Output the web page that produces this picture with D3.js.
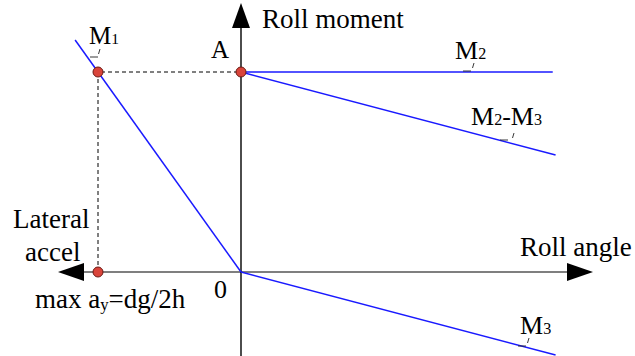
<!DOCTYPE html>
<html>
<head>
  <script src="https://d3js.org/d3.v7.min.js"></script>
  <style>
    html, body { margin: 0; padding: 0; background: #fff; }
    #chart { position: relative; width: 635px; height: 356px; }
    #chart svg { position: absolute; left: 0; top: 0; }
    .lbl {
      position: absolute;
      white-space: nowrap;
      line-height: 1;
      font-family: "Liberation Serif", "Times New Roman", Tinos, serif;
      color: #000;
    }
    .lbl .sub { font-size: 0.62em; }
    .lbl .base { display: inline-block; width: 0; height: 0; }
  </style>
</head>
<body>
  <div id="chart"></div>
  <script>
    // data (roll angle on x, roll moment on y, arbitrary units)
    const m1X = [-1.16, 0];
    const m1Y = [1.16, 0];
    const m2X = [0, 2.18];
    const m2Y = [1, 1];
    const m2m3X = [0, 2.2];
    const m2m3Y = [1, 0.585];
    const m3X = [0, 2.2];
    const m3Y = [0, -0.415];
    const dotX = [-1, 0, -1];
    const dotY = [1, 1, 0];

    const width = 635, height = 356;

    const chart = d3.select("#chart");
    const svg = chart.append("svg")
      .attr("width", width).attr("height", height);

    const x = d3.scaleLinear().domain([-1, 0]).range([98, 241]);
    const y = d3.scaleLinear().domain([0, 1]).range([272, 72]);

    const zip = (a, b) => a.map((v, i) => [v, b[i]]);
    const line = d3.line().x(d => x(d[0])).y(d => y(d[1]));

    // axes
    svg.append("line")
      .attr("x1", x(-1.2)).attr("x2", x(2.35))
      .attr("y1", y(0)).attr("y2", y(0))
      .attr("stroke", "#555").attr("stroke-width", 1.6);
    svg.append("line")
      .attr("x1", x(0)).attr("x2", x(0))
      .attr("y1", height).attr("y2", 20)
      .attr("stroke", "#000").attr("stroke-width", 1.4);

    // arrowheads
    const arrows = svg.append("g").attr("fill", "#000");
    arrows.append("path").attr("d", `M${x(0)},3 L${x(0) - 9},28 L${x(0) + 9},28 Z`);
    arrows.append("path").attr("d", `M58,${y(0)} L84,${y(0) - 9} L84,${y(0) + 9} Z`);
    arrows.append("path").attr("d", `M593,${y(0)} L567,${y(0) - 9} L567,${y(0) + 9} Z`);

    // dashed guides
    svg.append("path")
      .attr("d", `M${x(-1)},${y(0)} L${x(-1)},${y(1)} L${x(0)},${y(1)}`)
      .attr("fill", "none").attr("stroke", "#000")
      .attr("stroke-width", 1).attr("stroke-dasharray", "4,3");

    // blue lines
    [zip(m1X, m1Y), zip(m2X, m2Y), zip(m2m3X, m2m3Y), zip(m3X, m3Y)].forEach(pts => {
      svg.append("path").attr("d", line(pts))
        .attr("fill", "none").attr("stroke", "#1a1aff").attr("stroke-width", 1.5);
    });

    // points
    svg.selectAll("circle.pt").data(zip(dotX, dotY)).enter()
      .append("circle").attr("class", "pt")
      .attr("cx", d => x(d[0])).attr("cy", d => y(d[1])).attr("r", 5)
      .attr("fill", "#d9443a").attr("stroke", "#6b1a14").attr("stroke-width", 1);

    // labels as html so the serif face is used; baseline found with a zero-size marker
    function label(tx, ty, parts, size) {
      const div = chart.append("div").attr("class", "lbl")
        .style("left", tx + "px").style("top", "0px").style("font-size", size + "px");
      parts.forEach(p => {
        const s = div.append("span").text(p.t);
        if (p.sub) {
          s.attr("class", "sub");
          if (p.dy) s.style("position", "relative").style("top", p.dy + "px");
        }
      });
      const mark = div.append("span").attr("class", "base");
      const base = mark.node().getBoundingClientRect().top - div.node().getBoundingClientRect().top;
      div.style("top", (ty - base) + "px");
    }
    label(262, 28, [{t: "Roll moment"}], 27);
    label(211, 58, [{t: "A"}], 25);
    label(89, 44, [{t: "M"}, {t: "1", sub: true}], 25);
    label(455, 59, [{t: "M"}, {t: "2", sub: true}], 26);
    label(471, 125, [{t: "M"}, {t: "2", sub: true}, {t: "-M"}, {t: "3", sub: true}], 26);
    label(520, 256, [{t: "Roll angle"}], 27);
    label(520, 334, [{t: "M"}, {t: "3", sub: true}], 26);
    label(13, 228, [{t: "Lateral"}], 27);
    label(25, 261, [{t: "accel"}], 27);
    label(35, 308, [{t: "max a"}, {t: "y", sub: true, dy: 2}, {t: "=dg/2h"}], 27);
    label(214, 298, [{t: "0"}], 26);

    // little leader marks under the M labels
    const ticks = [[100, 49, 90, 57], [474, 63, 463, 71], [514, 133, 500, 140], [529, 338, 518, 346]];
    ticks.forEach(([sx, sy, hx, hy]) => {
      svg.append("path")
        .attr("d", `M${sx},${sy} L${sx - 1.5},${sy + 5} M${hx},${hy} L${hx + 8},${hy}`)
        .attr("fill", "none").attr("stroke", "#222").attr("stroke-width", 0.9);
    });
  </script>
</body>
</html>
